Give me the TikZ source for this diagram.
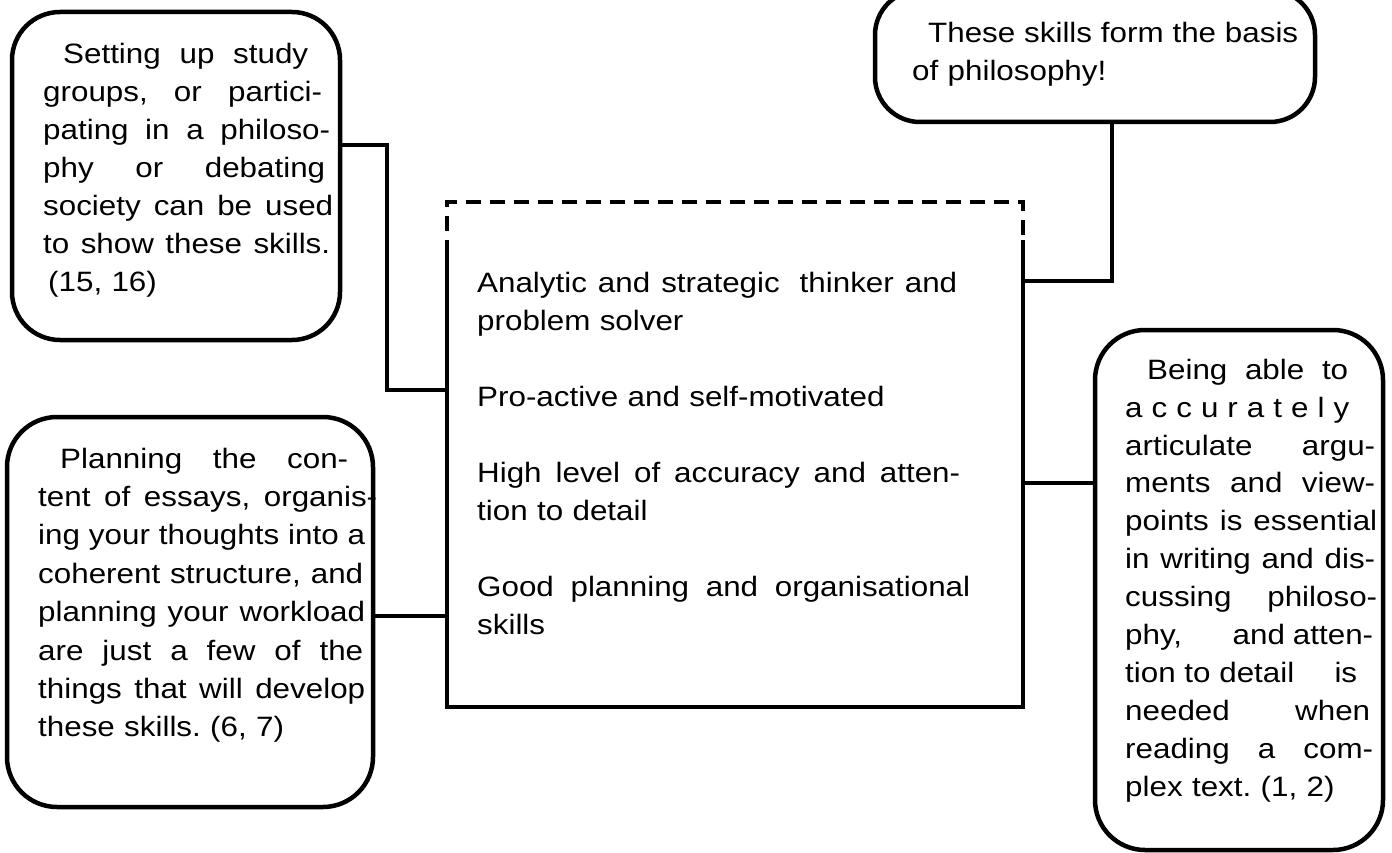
\documentclass[tikz,border=0pt]{standalone}
\usepackage{fontspec}
\setmainfont{Liberation Sans}[FakeStretch=1.12]
\frenchspacing
\newcommand\myjl[3]{\hspace*{#1pt}\makebox[#2pt][s]{\spaceskip=\fontdimen2\font plus 1fil\relax #3}}
\begin{document}
\begin{tikzpicture}[x=1pt,y=-1pt,
  bubble/.style={draw, line width=4.5pt, rounded corners=48pt, inner sep=0pt},
  cbord/.style={line width=4.5pt},
  conn/.style={line width=4pt},
  txt/.style={anchor=north west, inner sep=0pt, align=left, font=\fontsize{28}{38}\selectfont\frenchspacing}]
\useasboundingbox (0,0) rectangle (1392,853);
% boxes
\node[bubble, minimum width=328pt, minimum height=328pt] (b1) at (176,176) {};
\node[bubble, rounded corners=45pt, minimum width=440pt, minimum height=132pt] (tr) at (1095,56) {};
\node[bubble, rounded corners=50pt, minimum width=366pt, minimum height=390pt] (b2) at (190,612) {};
\node[bubble, rounded corners=50pt, minimum width=288pt, minimum height=520pt] (rb) at (1239,590) {};
\node[inner sep=0pt, minimum width=576pt, minimum height=505pt] (cb) at (735,454.5) {};
% helper coordinates
\coordinate (ds) at (0,240);
\coordinate (y1) at (0,145);
\coordinate (k1) at (387,145);
\coordinate (y2) at (0,390);
\coordinate (y3) at (0,616);
\coordinate (k3) at (1112,0);
\coordinate (y4) at (0,281);
\coordinate (y5) at (0,483);
% central box border
\draw[cbord] (cb.west |- ds) -- (cb.south west) -- (cb.south east) -- (cb.east |- ds);
\draw[cbord, dash pattern=on 15pt off 9pt, dash phase=15pt] (cb.west |- ds) -- (cb.north west) -- (cb.north east) -- (cb.east |- ds);
% connectors
\draw[conn] (b1.east |- y1) -- (k1) |- (cb.west |- y2);
\draw[conn] (b2.east |- y3) -- (cb.west |- y3);
\draw[conn] (tr.south -| k3) |- (cb.east |- y4);
\draw[conn] (cb.east |- y5) -- (rb.west |- y5);
% texts
\node[txt, text width=300pt] (t1) at (43,36.4) {%
\strut\myjl{20}{245}{Setting up study}\\
\myjl{0}{279}{groups, or partici-}\\
\myjl{0}{287}{pating in a philoso-}\\
\myjl{0}{282}{phy or debating}\\
\myjl{0}{290}{society can be used}\\
\myjl{0}{287}{to show these skills.}\\
\hspace*{5pt}(15, 16)};
\node[txt, text width=500pt] (tc) at (477,265.4) {%
\strut\myjl{0}{480}{Analytic and strategic\hspace{9pt} thinker and}\\
problem solver\\[38pt]
Pro-active and self-motivated\\[38pt]
\myjl{0}{483}{High level of accuracy and atten-}\\
tion to detail\\[38pt]
\myjl{0}{493}{Good planning and organisational}\\
skills};
\node[txt, text width=390pt] (ttr) at (912,15.4) {%
\strut\myjl{16}{370}{These skills form the basis}\\
of philosophy!};
\node[txt, text width=345pt, font=\fontsize{28}{38.4}\selectfont] (t2) at (38,441.1) {%
\strut\myjl{22}{288}{Planning the con-}\\
\myjl{0}{339}{tent of essays, organis-}\\
\myjl{0}{327}{ing your thoughts into a}\\
\myjl{0}{325}{coherent structure, and}\\
\myjl{0}{327}{planning your workload}\\
\myjl{0}{325}{are just a few of the}\\
\myjl{0}{327}{things that will develop}\\
these skills. (6, 7)};
\node[txt, text width=260pt, font=\fontsize{28}{37.9}\selectfont] (trb) at (1125,352.5) {%
\strut\myjl{22}{201}{Being able to}\\
\myjl{0}{224}{a c c u r a t e l y}\\
\myjl{0}{250}{articulate argu-}\\
\myjl{0}{250}{ments and view-}\\
\myjl{0}{252}{points is essential}\\
\myjl{0}{250}{in writing and dis-}\\
\myjl{0}{252}{cussing philoso-}\\
\myjl{0}{248}{phy,\hfill and\hspace{8pt}atten-}\\
\myjl{0}{232}{tion to detail\hfill is}\\
\myjl{0}{245}{needed when}\\
\myjl{0}{248}{reading a com-}\\
plex text. (1, 2)};
\end{tikzpicture}
\end{document}
